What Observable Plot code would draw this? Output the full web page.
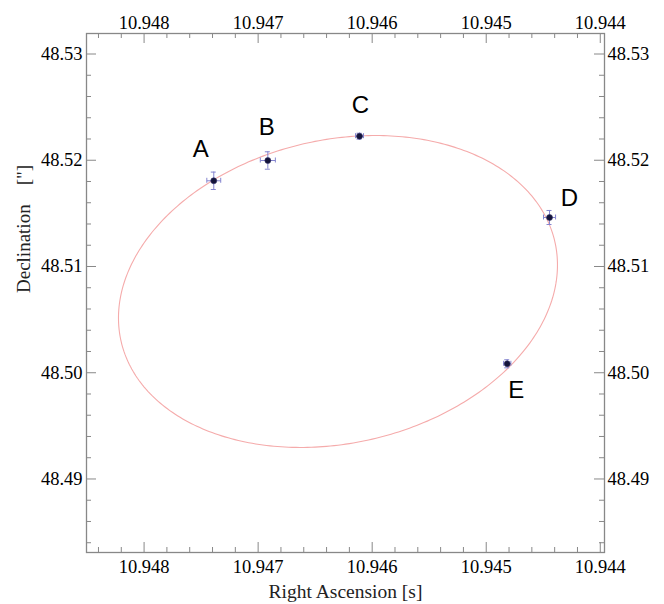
<!DOCTYPE html>
<html>
<head>
<meta charset="utf-8">
<script src="https://cdn.jsdelivr.net/npm/d3@7"></script>
<script src="https://cdn.jsdelivr.net/npm/@observablehq/plot@0.6"></script>
<style>
  html, body { margin: 0; padding: 0; background: #fff; }
</style>
</head>
<body>
<div id="chart"></div>
<script>
// ---- data ----
const labels = ["A", "B", "C", "D", "E"];
const ra = [10.947389, 10.946915, 10.946111, 10.944445, 10.944816];      // Right Ascension [s]
const dec = [48.518066, 48.519976, 48.522264, 48.514612, 48.500842];     // Declination ["]
const raErr = [0.000061, 0.000066, 0.000035, 0.000053, 0.000032];
const decErr = [0.00082, 0.00082, 0.00028, 0.00066, 0.00038];

// fitted orbit ellipse: centre and conjugate axis vectors
const ellCenter = [10.946300, 48.507647];
const ellAxisU = [-0.0019246, 0.002494];   // (dRA, dDec) multiplying cos t
const ellAxisV = [0, 0.014466];            // (dRA, dDec) multiplying sin t

const xTicks = [10.948, 10.947, 10.946, 10.945, 10.944];
const yTicks = [48.49, 48.50, 48.51, 48.52, 48.53];
const xDomain = [10.948505, 10.943963];
const yDomain = [48.48308, 48.53193];

// ---- derived tables ----
const pts = labels.map((name, i) => ({name, ra: ra[i], dec: dec[i], ex: raErr[i], ey: decErr[i]}));
const ellipse = d3.range(0, 361).map(k => {
  const t = k * Math.PI / 180;
  return {
    x: ellCenter[0] + ellAxisU[0] * Math.cos(t) + ellAxisV[0] * Math.sin(t),
    y: ellCenter[1] + ellAxisU[1] * Math.cos(t) + ellAxisV[1] * Math.sin(t)
  };
});
const xMinor = d3.range(0, 23).map(k => +(10.944 + k * 0.0002).toFixed(4))
  .filter(v => v <= xDomain[0] && v >= xDomain[1] && !xTicks.some(t => Math.abs(t - v) < 1e-9));
const yMinor = d3.range(0, 26).map(k => +(48.482 + k * 0.002).toFixed(3))
  .filter(v => v >= yDomain[0] && v <= yDomain[1] && !yTicks.some(t => Math.abs(t - v) < 1e-9));

const labelOffset = {A: [-13, -31], B: [-1, -33], C: [1, -31], D: [20, -19], E: [9, 27]};

const W = 664, H = 604;
const mT = 33, mB = 52, mL = 86, mR = 60;
const innerW = W - mL - mR, innerH = H - mT - mB;
const axisGray = "#888888";
const major = 10, minor = 5;
const errColor = "#8585cf";

const chart = Plot.plot({
  width: W, height: H,
  marginTop: mT, marginBottom: mB, marginLeft: mL, marginRight: mR,
  style: {fontFamily: "'Liberation Serif', 'DejaVu Serif', serif", fontSize: "18.5px", color: "#000", background: "#fff"},
  x: {domain: xDomain, label: null},
  y: {domain: yDomain, label: null},
  marks: [
    // inward ticks
    Plot.ruleX(xTicks, {stroke: axisGray, insetBottom: innerH - major}),
    Plot.ruleX(xTicks, {stroke: axisGray, insetTop: innerH - major}),
    Plot.ruleX(xMinor, {stroke: axisGray, insetBottom: innerH - minor}),
    Plot.ruleX(xMinor, {stroke: axisGray, insetTop: innerH - minor}),
    Plot.ruleY(yTicks, {stroke: axisGray, insetRight: innerW - major}),
    Plot.ruleY(yTicks, {stroke: axisGray, insetLeft: innerW - major}),
    Plot.ruleY(yMinor, {stroke: axisGray, insetRight: innerW - minor}),
    Plot.ruleY(yMinor, {stroke: axisGray, insetLeft: innerW - minor}),
    Plot.frame({stroke: axisGray, strokeWidth: 1.3}),
    // tick labels
    Plot.axisX({anchor: "top", ticks: xTicks, tickSize: 0, tickPadding: 5, tickFormat: d3.format(".3f"), label: null}),
    Plot.axisX({anchor: "bottom", ticks: xTicks, tickSize: 0, tickPadding: 7, tickFormat: d3.format(".3f"), label: null}),
    Plot.axisY({anchor: "left", ticks: yTicks, tickSize: 0, tickPadding: 4, tickFormat: d3.format(".2f"), label: null}),
    Plot.axisY({anchor: "right", ticks: yTicks, tickSize: 0, tickPadding: 3, tickFormat: d3.format(".2f"), label: null}),
    // axis titles
    Plot.text(["Right Ascension [s]"], {frameAnchor: "bottom", dy: 39, lineAnchor: "middle", fontSize: 19.5, fill: "#222"}),
    Plot.text(["Declination\u00a0\u00a0\u00a0\u00a0[\"]"], {frameAnchor: "left", dx: -63, rotate: -90, lineAnchor: "middle", fontSize: 19, fill: "#222"}),
    // orbit
    Plot.line(ellipse, {x: "x", y: "y", stroke: "#f5abab", strokeWidth: 1.1}),
    // error bars
    Plot.link(pts, {x1: d => d.ra - d.ex, x2: d => d.ra + d.ex, y1: "dec", y2: "dec", stroke: errColor, strokeWidth: 1}),
    Plot.ruleX(pts, {x: "ra", y1: d => d.dec - d.ey, y2: d => d.dec + d.ey, stroke: errColor, strokeWidth: 1}),
    Plot.ruleX(pts, {x: d => d.ra - d.ex, y1: "dec", y2: "dec", insetTop: -2.5, insetBottom: -2.5, stroke: errColor, strokeWidth: 1}),
    Plot.ruleX(pts, {x: d => d.ra + d.ex, y1: "dec", y2: "dec", insetTop: -2.5, insetBottom: -2.5, stroke: errColor, strokeWidth: 1}),
    Plot.ruleY(pts, {y: d => d.dec - d.ey, x1: "ra", x2: "ra", insetLeft: -2.5, insetRight: -2.5, stroke: errColor, strokeWidth: 1}),
    Plot.ruleY(pts, {y: d => d.dec + d.ey, x1: "ra", x2: "ra", insetLeft: -2.5, insetRight: -2.5, stroke: errColor, strokeWidth: 1}),
    Plot.dot(pts, {x: "ra", y: "dec", r: 3, fill: "#14143a", stroke: "#34346a", strokeWidth: 0.6}),
    // point labels
    Plot.text(pts, {x: "ra", y: "dec", text: "name",
      fontFamily: "'Liberation Sans', Arial, sans-serif", fontSize: 24, fill: "#000",
      textAnchor: "middle", lineAnchor: "middle"})
  ]
});
// apply per-label offsets
chart.querySelectorAll("g[aria-label='text'] text").forEach(t => {
  const k = t.textContent;
  if (labelOffset[k]) {
    t.setAttribute("dx", labelOffset[k][0]);
    t.setAttribute("dy", labelOffset[k][1]);
  }
});
document.getElementById("chart").appendChild(chart);
</script>
</body>
</html>
